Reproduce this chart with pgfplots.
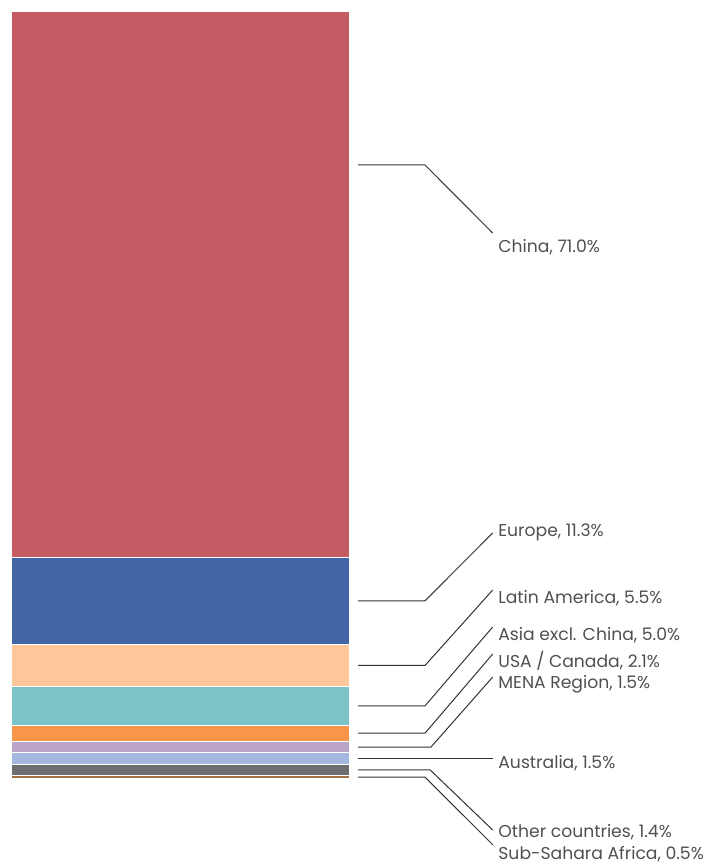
\documentclass[border=0pt]{standalone}
\usepackage{pgfplots}
\pgfplotsset{compat=1.18}
\usepackage{fontspec}
\setmainfont{Poppins}
\definecolor{c-china}{HTML}{C55C64}
\definecolor{c-europe}{HTML}{4265A5}
\definecolor{c-latam}{HTML}{FFC699}
\definecolor{c-asia}{HTML}{7BC3C7}
\definecolor{c-usa}{HTML}{F89548}
\definecolor{c-mena}{HTML}{BAA5C8}
\definecolor{c-aus}{HTML}{A2B8DF}
\definecolor{c-other}{HTML}{6D6E72}
\definecolor{c-ssa}{HTML}{A46F41}
\definecolor{txt}{HTML}{505050}
\definecolor{lead}{HTML}{333333}
\tikzset{
	leader/.style = {draw=lead, line width=0.5pt},
	lab/.style = {anchor=base west, inner sep=0pt, text=txt,
		font=\fontsize{8.6}{10}\selectfont},
}

\begin{document}
\begin{tikzpicture}
	\begin{axis}[%
		scale only axis,
		width = 359pt,
		height = 432pt,
		xmin = 0, xmax = 718,
		ymin = -11.046, ymax = 101.229,
		hide axis,
		clip = false,
		ybar stacked,
		bar width = 339,
		every axis plot/.append style = {draw=white, line width=0.6pt},
	]
		% bottom to top
		\addplot [fill=c-ssa] coordinates {(180.5,0.5)};
		\addplot [fill=c-other] coordinates {(180.5,1.4)};
		\addplot [fill=c-aus] coordinates {(180.5,1.5)};
		\addplot [fill=c-mena] coordinates {(180.5,1.5)};
		\addplot [fill=c-usa] coordinates {(180.5,2.1)};
		\addplot [fill=c-asia] coordinates {(180.5,5.0)};
		\addplot [fill=c-latam] coordinates {(180.5,5.5)};
		\addplot [fill=c-europe] coordinates {(180.5,11.3)};
		\addplot [fill=c-china] coordinates {(180.5,71.0)};

		% leader lines and labels
		\draw [leader] (axis cs:358,79.79) -- (axis cs:425,79.79) -- (axis cs:492.7,70.95);
		\node [lab] at (axis cs:498,68.48) {China, 71.0\%};

		\draw [leader] (axis cs:358,23.15) -- (axis cs:425,23.15) -- (axis cs:492.7,31.97);
		\node [lab] at (axis cs:498,31.45) {Europe, 11.3\%};

		\draw [leader] (axis cs:358,14.75) -- (axis cs:425,14.75) -- (axis cs:492.7,24.56);
		\node [lab] at (axis cs:498,22.87) {Latin America, 5.5\%};

		\draw [leader] (axis cs:358,9.5) -- (axis cs:425,9.5) -- (axis cs:492.7,19.75);
		\node [lab] at (axis cs:498,18.06) {Asia excl. China, 5.0\%};

		\draw [leader] (axis cs:358,5.95) -- (axis cs:425,5.95) -- (axis cs:492.7,16.24);
		\node [lab] at (axis cs:498,14.55) {USA / Canada, 2.1\%};

		\draw [leader] (axis cs:358,4.15) -- (axis cs:431,4.15) -- (axis cs:492.7,13.25);
		\node [lab] at (axis cs:498,11.70) {MENA Region, 1.5\%};

		\draw [leader] (axis cs:358,2.65) -- (axis cs:492.7,2.65);
		\node [lab] at (axis cs:498,1.30) {Australia, 1.5\%};

		\draw [leader] (axis cs:358,1.2) -- (axis cs:430,1.2) -- (axis cs:492.7,-6.63);
		\node [lab] at (axis cs:498,-7.63) {Other countries, 1.4\%};

		\draw [leader] (axis cs:358,0.25) -- (axis cs:425,0.25) -- (axis cs:493,-8.58);
		\node [lab] at (axis cs:498,-10.45) {Sub-Sahara Africa, 0.5\%};
	\end{axis}
	\pgfresetboundingbox
	\path (current axis.south west) rectangle (current axis.north east);
\end{tikzpicture}
\end{document}
